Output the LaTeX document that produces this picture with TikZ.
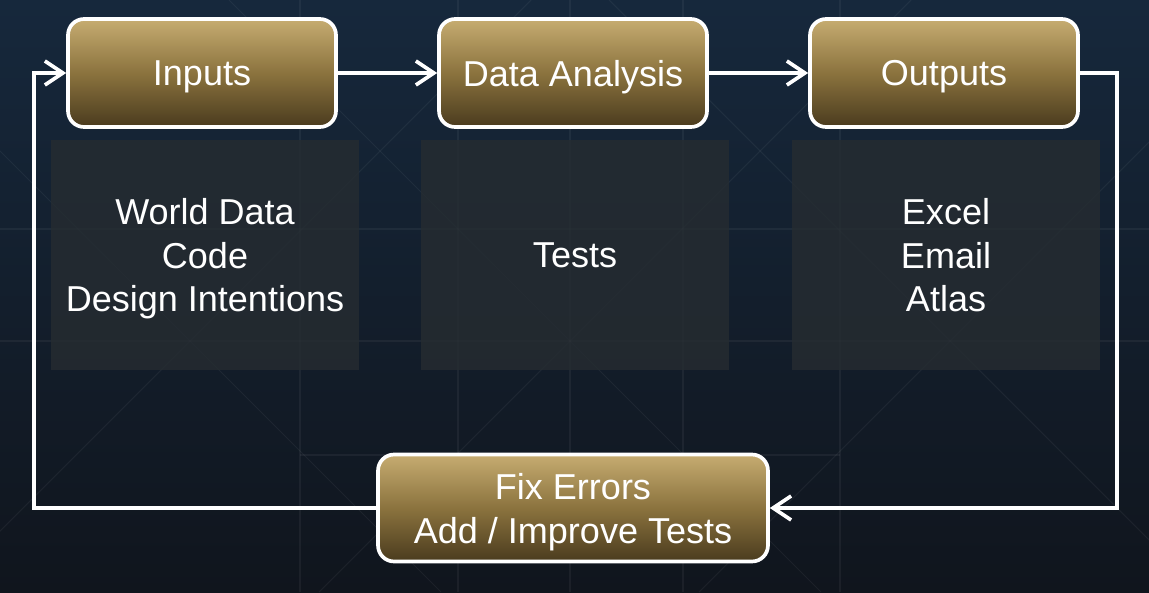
\documentclass[tikz,border=0pt]{standalone}
\usepackage{fontspec}
\setmainfont{Liberation Sans}
\usetikzlibrary{arrows.meta}

\definecolor{bgtop}{HTML}{16283C}
\definecolor{bgbot}{HTML}{10151D}
\definecolor{goldtop}{HTML}{C6AC71}
\definecolor{goldmid}{HTML}{8B733E}
\definecolor{goldbot}{HTML}{4A3B1E}
\definecolor{panelgray}{HTML}{262C31}

\tikzset{
  stepbox/.style={draw=white, line width=2.1pt, rounded corners=0.32cm,
    top color=goldtop, bottom color=goldbot, middle color=goldmid,
    minimum width=5.36cm, minimum height=2.16cm, text=white, align=center,
    text depth=0pt, font=\fontsize{20.5}{25}\selectfont},
  panel/.style={fill=panelgray, fill opacity=0.8, text opacity=1, text=white,
    minimum width=6.16cm, minimum height=4.6cm, align=center,
    text depth=0pt, font=\fontsize{20.5}{24.7}\selectfont},
  flow/.style={draw=white, line width=2.1pt, -{Straight Barb[length=3.6mm,width=4.8mm]}},
  faint/.style={white, opacity=0.05, line width=0.6pt}
}

\begin{document}
\begin{tikzpicture}[x=0.02cm, y=-0.02cm]
    \useasboundingbox (0,0) rectangle (1149,592);
    % Background
    \fill[top color=bgtop, bottom color=bgbot] (0,0) rectangle (1149,592);
    \begin{scope}
        \clip (0,0) rectangle (1149,592);
        \foreach \gx in {300,458,570,683,840}
            \draw[faint] (\gx,0) -- (\gx,592);
        \foreach \gy in {229,341}
            \draw[faint] (0,\gy) -- (1149,\gy);
        \draw[faint] (300,455) -- (840,455);
        \foreach \c in {-151,229,609}
            \draw[faint] (\c,0) -- ++(592,592);
        \foreach \c in {531,911,1291}
            \draw[faint] (\c,0) -- ++(-592,592);
    \end{scope}

    % Panels
    \node[panel] (inpanel) at (205,255) {World Data\\Code\\Design Intentions};
    \node[panel] (anpanel) at (575,255) {Tests};
    \node[panel] (outpanel) at (946,255) {Excel\\Email\\Atlas};

    % Steps
    \node[stepbox] (inputs) at (202,73) {Inputs};
    \node[stepbox] (analysis) at (573,73) {Data Analysis};
    \node[stepbox] (outputs) at (944,73) {Outputs};
    \node[stepbox, minimum width=7.8cm, minimum height=2.14cm] (fix) at (573,508)
        {Fix Errors\\Add / Improve Tests};

    % Flow
    \draw[flow] (inputs) -- (analysis);
    \draw[flow] (analysis) -- (outputs);
    \draw[flow] (outputs.east) -- ++(37,0) |- (fix.east);
    \draw[flow] (fix.west) -- ++(-342,0) |- (inputs.west);
\end{tikzpicture}
\end{document}
